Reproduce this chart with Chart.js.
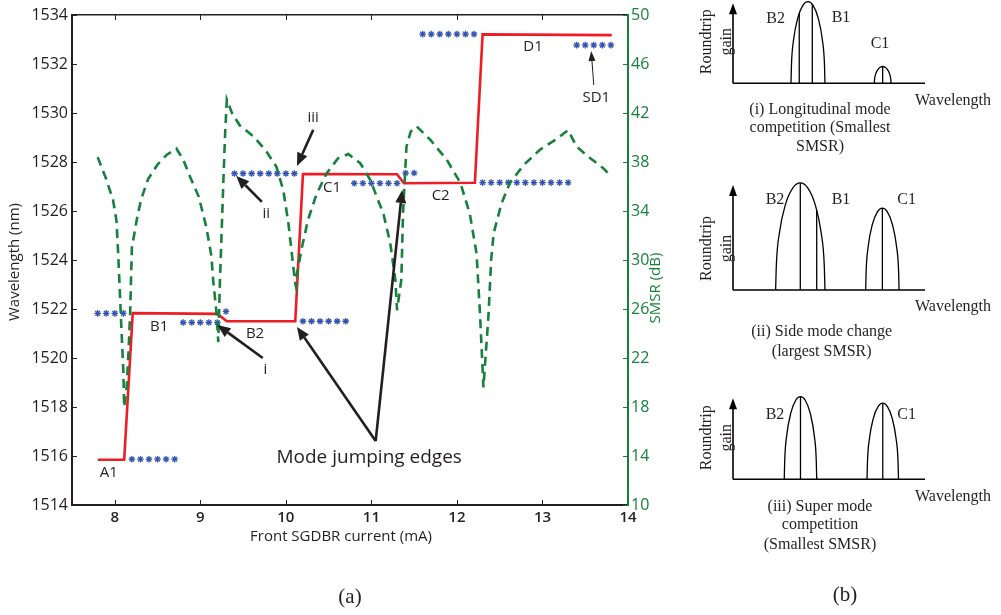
<!DOCTYPE html>
<html>
<head>
<meta charset="utf-8">
<script src="https://cdn.jsdelivr.net/npm/chart.js@4.4.1/dist/chart.umd.min.js"></script>
<style>
  html, body { margin: 0; padding: 0; background: #fff; }
  #wrap { position: relative; width: 1001px; height: 615px; overflow: hidden; background: #fff; }
  canvas { position: absolute; }
</style>
</head>
<body>
<div id="wrap">
  <canvas id="main" width="680" height="615" style="left:0;top:0;width:680px;height:615px"></canvas>
  <canvas id="gainI" width="321" height="165" style="left:680px;top:0;width:321px;height:165px"></canvas>
  <canvas id="gainII" width="321" height="205" style="left:680px;top:165px;width:321px;height:205px"></canvas>
  <canvas id="gainIII" width="321" height="245" style="left:680px;top:370px;width:321px;height:245px"></canvas>
</div>
<script>
// ---------- (a) wavelength and SMSR versus front SGDBR current ----------
const currentTicks = [8, 9, 10, 11, 12, 13, 14];
const wavelengthTicks = [1514, 1516, 1518, 1520, 1522, 1524, 1526, 1528, 1530, 1532, 1534];
const smsrTicks = [10, 14, 18, 22, 26, 30, 34, 38, 42, 46, 50];

// lasing wavelength (nm)
const lasingCurrent = [7.80, 8.11, 8.21, 9.20, 9.31, 10.11, 10.20, 11.30, 11.38, 12.21, 12.30, 13.81];
const lasingWl = [1515.85, 1515.85, 1521.83, 1521.80, 1521.50, 1521.50, 1527.51, 1527.50, 1527.13, 1527.15, 1533.21, 1533.18];

// strongest side mode wavelength (nm)
const sideCurrent = [
  7.8, 7.9, 8.0, 8.1,
  8.2, 8.3, 8.4, 8.5, 8.6, 8.7,
  8.8, 8.9, 9.0, 9.1, 9.2,
  9.3,
  9.4, 9.5, 9.6, 9.7, 9.8, 9.9, 10.0, 10.1,
  10.2, 10.3, 10.4, 10.5, 10.6, 10.7,
  10.8, 10.9, 11.0, 11.1, 11.2, 11.3,
  11.4, 11.5,
  11.6, 11.7, 11.8, 11.9, 12.0, 12.1, 12.2,
  12.3, 12.4, 12.5, 12.6, 12.7, 12.8, 12.9, 13.0, 13.1, 13.2, 13.3,
  13.4, 13.5, 13.6, 13.7, 13.8
];
const sideWl = [
  1521.82, 1521.82, 1521.82, 1521.82,
  1515.87, 1515.87, 1515.87, 1515.87, 1515.87, 1515.87,
  1521.45, 1521.45, 1521.45, 1521.45, 1521.45,
  1521.90,
  1527.53, 1527.53, 1527.53, 1527.53, 1527.53, 1527.53, 1527.53, 1527.53,
  1521.50, 1521.50, 1521.50, 1521.50, 1521.50, 1521.50,
  1527.13, 1527.13, 1527.13, 1527.13, 1527.13, 1527.13,
  1527.55, 1527.55,
  1533.22, 1533.22, 1533.22, 1533.22, 1533.22, 1533.22, 1533.22,
  1527.16, 1527.16, 1527.16, 1527.16, 1527.16, 1527.16, 1527.16, 1527.16, 1527.16, 1527.16, 1527.16,
  1532.77, 1532.77, 1532.77, 1532.77, 1532.77
];

// side mode suppression ratio (dB)
const smsrCurrent = [
  7.80, 7.90, 7.98, 8.02, 8.04, 8.06, 8.08, 8.10, 8.11, 8.14, 8.16, 8.18, 8.19, 8.20,
  8.26, 8.31, 8.39, 8.50, 8.61, 8.72, 8.80, 8.88, 8.98, 9.07, 9.13, 9.15, 9.19, 9.21,
  9.23, 9.25, 9.27, 9.29, 9.31, 9.37, 9.46, 9.62, 9.76, 9.89, 9.97, 10.03, 10.07, 10.11, 10.12,
  10.13, 10.19, 10.26, 10.36, 10.48, 10.61, 10.73, 10.87, 10.99, 11.06, 11.14, 11.22, 11.28, 11.30,
  11.35, 11.37, 11.41, 11.46, 11.53, 11.69, 11.88, 12.04, 12.15, 12.23, 12.27, 12.31,
  12.37, 12.40, 12.43, 12.52, 12.62, 12.78, 12.97, 13.17, 13.30, 13.40, 13.56, 13.71, 13.81
];
const smsrDb = [
  38.4, 36.6, 34.9, 33.2, 30.5, 27.3, 24.0, 21.0, 18.0, 19.7, 22.4, 25.7, 28.4, 31.0,
  33.4, 35.0, 36.6, 37.8, 38.6, 39.1, 38.2, 36.8, 35.2, 32.7, 30.3, 28.4, 25.6, 23.3,
  28.4, 32.4, 36.5, 40.3, 43.1, 42.0, 41.0, 40.1, 39.0, 37.6, 35.7, 33.0, 30.5, 28.1, 27.8,
  28.9, 31.1, 33.3, 35.4, 37.1, 38.3, 38.65, 37.9, 36.5, 35.2, 33.8, 31.4, 28.4, 25.9,
  28.4, 33.8, 39.25, 40.5, 40.9, 39.8, 38.2, 36.3, 33.8, 30.5, 25.6, 19.6,
  25.6, 30.0, 32.2, 34.6, 36.3, 37.75, 39.0, 39.9, 40.6, 39.25, 38.3, 37.5, 36.8
];

// mode names and remarks, placed at (current, wavelength)
const noteText = ['A1', 'B1', 'B2', 'C1', 'C2', 'D1', 'SD1', 'iii', 'ii', 'i'];
const noteCurrent = [7.93, 8.52, 9.64, 10.54, 11.81, 12.89, 13.63, 10.32, 9.77, 9.76];
const noteWl = [1515.31, 1521.27, 1521.00, 1526.94, 1526.61, 1532.69, 1530.61, 1529.80, 1525.88, 1519.51];

// pointer arrows: tail -> head, in (current, wavelength)
const arrowFromCurrent = [10.32, 9.72, 9.73, 11.05, 11.05, 13.60];
const arrowFromWl = [1529.31, 1526.37, 1520.00, 1516.61, 1516.61, 1531.14];
const arrowToCurrent = [10.13, 9.42, 9.20, 10.13, 11.36, 13.57];
const arrowToWl = [1527.84, 1527.43, 1521.35, 1521.27, 1526.86, 1532.53];
const arrowThin = [false, false, false, false, false, true];

const ink = '#231f20';
const green = '#17803d';
const red = '#ee1c25';
const blue = '#3455b0';
const sans = "'Open Sans', 'Liberation Sans', sans-serif";
const serif = "'Liberation Serif', 'DejaVu Serif', serif";

const pairs = (xs, ys) => xs.map((x, i) => ({ x: x, y: ys[i] }));
const fixedTicks = list => scale => { scale.ticks = list.map(v => ({ value: v })); };
const plainLabel = v => String(v);

function drawArrow(ctx, x0, y0, x1, y1, width, headLen, headHalf) {
  const ang = Math.atan2(y1 - y0, x1 - x0);
  const bx = x1 - headLen * Math.cos(ang), by = y1 - headLen * Math.sin(ang);
  ctx.lineWidth = width;
  ctx.beginPath();
  ctx.moveTo(x0, y0);
  ctx.lineTo(bx, by);
  ctx.stroke();
  ctx.beginPath();
  ctx.moveTo(x1, y1);
  ctx.lineTo(bx + headHalf * Math.sin(ang), by - headHalf * Math.cos(ang));
  ctx.lineTo(bx - headHalf * Math.sin(ang), by + headHalf * Math.cos(ang));
  ctx.closePath();
  ctx.fill();
}

const mainDecor = {
  id: 'mainDecor',
  afterDraw(chart) {
    const { ctx, chartArea: a, scales } = chart;
    const sx = scales.x, sy = scales.y, s2 = scales.y2;
    ctx.save();
    // inward tick marks
    ctx.lineWidth = 1;
    ctx.strokeStyle = ink;
    ctx.beginPath();
    currentTicks.forEach(v => {
      const px = Math.round(sx.getPixelForValue(v)) + 0.5;
      if (px > a.right - 2) return;
      ctx.moveTo(px, a.bottom); ctx.lineTo(px, a.bottom - 5);
      ctx.moveTo(px, a.top); ctx.lineTo(px, a.top + 5);
    });
    wavelengthTicks.forEach(v => {
      const py = Math.round(sy.getPixelForValue(v)) + 0.5;
      ctx.moveTo(a.left, py); ctx.lineTo(a.left + 5, py);
    });
    ctx.stroke();
    ctx.strokeStyle = green;
    ctx.beginPath();
    smsrTicks.forEach(v => {
      const py = Math.round(s2.getPixelForValue(v)) + 0.5;
      ctx.moveTo(a.right, py); ctx.lineTo(a.right - 5, py);
    });
    ctx.stroke();

    // axis titles
    ctx.fillStyle = ink;
    ctx.font = '15px ' + sans;
    ctx.textAlign = 'center';
    ctx.textBaseline = 'middle';
    ctx.fillText('Front SGDBR current (mA)', 341, 537);
    ctx.save();
    ctx.translate(15, 262);
    ctx.rotate(-Math.PI / 2);
    ctx.fillText('Wavelength (nm)', 0, 0);
    ctx.restore();
    ctx.save();
    ctx.fillStyle = green;
    ctx.translate(656, 288);
    ctx.rotate(-Math.PI / 2);
    ctx.fillText('SMSR (dB)', 0, 0);
    ctx.restore();

    // mode labels
    ctx.font = '15px ' + sans;
    noteText.forEach((t, i) => {
      ctx.fillText(t, sx.getPixelForValue(noteCurrent[i]), sy.getPixelForValue(noteWl[i]));
    });
    ctx.font = '19px ' + sans;
    ctx.textAlign = 'left';
    ctx.fillText('Mode jumping edges', sx.getPixelForValue(9.89), sy.getPixelForValue(1515.92));

    // arrows
    ctx.strokeStyle = ink;
    ctx.fillStyle = ink;
    ctx.lineCap = 'butt';
    arrowFromCurrent.forEach((c, i) => {
      const x0 = sx.getPixelForValue(c), y0 = sy.getPixelForValue(arrowFromWl[i]);
      const x1 = sx.getPixelForValue(arrowToCurrent[i]), y1 = sy.getPixelForValue(arrowToWl[i]);
      if (arrowThin[i]) drawArrow(ctx, x0, y0, x1, y1, 1, 10, 3.5);
      else drawArrow(ctx, x0, y0, x1, y1, 2.6, 13, 5.5);
    });

    // panel tag
    ctx.font = '21px ' + serif;
    ctx.textAlign = 'center';
    ctx.fillText('(a)', 350, 597);
    ctx.restore();
  }
};

new Chart(document.getElementById('main'), {
  type: 'line',
  data: {
    datasets: [
      {
        label: 'SMSR',
        data: pairs(smsrCurrent, smsrDb),
        yAxisID: 'y2',
        borderColor: green,
        borderWidth: 2.6,
        borderDash: [9, 6],
        pointRadius: 0,
        tension: 0,
        fill: false
      },
      {
        label: 'Side mode',
        data: pairs(sideCurrent, sideWl),
        yAxisID: 'y',
        showLine: false,
        pointStyle: 'star',
        pointRadius: 3.3,
        pointBorderColor: blue,
        pointBackgroundColor: blue,
        pointBorderWidth: 1.3
      },
      {
        label: 'Lasing mode',
        data: pairs(lasingCurrent, lasingWl),
        yAxisID: 'y',
        borderColor: red,
        borderWidth: 2.6,
        pointRadius: 0,
        tension: 0,
        fill: false
      }
    ]
  },
  options: {
    responsive: false,
    animation: false,
    devicePixelRatio: 1,
    layout: { padding: 0 },
    plugins: { legend: { display: false }, tooltip: { enabled: false } },
    scales: {
      x: {
        type: 'linear', position: 'bottom', min: 7.5, max: 14,
        afterBuildTicks: fixedTicks(currentTicks),
        afterFit: s => { s.height = 110; },
        grid: { display: false, drawTicks: false },
        border: { display: true, color: ink, width: 2 },
        ticks: { color: ink, font: { family: sans, size: 15, weight: '600' }, padding: 4, maxRotation: 0, autoSkip: false, callback: plainLabel }
      },
      xTop: {
        type: 'linear', position: 'top', min: 7.5, max: 14,
        afterBuildTicks: fixedTicks(currentTicks),
        afterFit: s => { s.height = 15; },
        grid: { display: false, drawTicks: false },
        border: { display: true, color: ink, width: 1.5 },
        ticks: { display: false }
      },
      y: {
        type: 'linear', position: 'left', min: 1514, max: 1534,
        afterBuildTicks: fixedTicks(wavelengthTicks),
        afterFit: s => { s.width = 72; },
        grid: { display: false, drawTicks: false },
        border: { display: true, color: ink, width: 2 },
        ticks: { color: ink, font: { family: sans, size: 16 }, padding: 4, autoSkip: false, callback: plainLabel }
      },
      y2: {
        type: 'linear', position: 'right', min: 10, max: 50,
        afterBuildTicks: fixedTicks(smsrTicks),
        afterFit: s => { s.width = 52; },
        grid: { display: false, drawTicks: false },
        border: { display: true, color: green, width: 2 },
        ticks: { color: green, font: { family: sans, size: 16 }, padding: 3, autoSkip: false, callback: plainLabel }
      }
    }
  },
  plugins: [mainDecor]
});

// ---------- (b) roundtrip gain sketches ----------
// (i) longitudinal mode competition
const archI1X = [30.2, 30.47, 31.53, 33.74, 36.39, 39.05, 41.71, 44.36, 46.57, 47.63, 47.9];
const archI1Y = [0, 24.5, 54, 81.6, 97.3, 102, 97.3, 81.6, 54, 24.5, 0];
const archI2X = [73.6, 73.73, 74.25, 75.34, 76.64, 77.95, 79.26, 80.56, 81.65, 82.17, 82.3];
const archI2Y = [0, 5.0, 11.1, 16.8, 20.0, 21, 20.0, 16.8, 11.1, 5.0, 0];
const modeIX = [34.5, 41.3, 77.95];
const modeITop = [87.5, 98.6, 21];

// (ii) side mode change
const archII1X = [22.2, 22.59, 24.13, 27.34, 31.19, 35.05, 38.91, 42.76, 45.97, 47.51, 47.9];
const archII1Y = [0, 24.5, 54, 81.6, 97.3, 102, 97.3, 81.6, 54, 24.5, 0];
const archII2X = [69.1, 69.36, 70.4, 72.58, 75.19, 77.8, 80.41, 83.02, 85.2, 86.24, 86.5];
const archII2Y = [0, 18.7, 41.3, 62.4, 74.4, 78, 74.4, 62.4, 41.3, 18.7, 0];
const modeIIX = [35.05, 43.6, 77.8];
const modeIITop = [102, 76.2, 78];

// (iii) super mode competition
const archIII1X = [26.7, 26.95, 27.97, 30.08, 32.61, 35.15, 37.69, 40.22, 42.33, 43.35, 43.6];
const archIII1Y = [0, 24.5, 54, 81.6, 97.3, 102, 97.3, 81.6, 54, 24.5, 0];
const archIII2X = [69.8, 70.05, 71.03, 73.08, 75.54, 78, 80.46, 82.92, 84.97, 85.95, 86.2];
const archIII2Y = [0, 22.6, 49.8, 75.2, 89.7, 94, 89.7, 75.2, 49.8, 22.6, 0];
const modeIIIX = [35.15, 78];
const modeIIITop = [102, 94];

function gainPanel(id, pad, arches, modeX, modeTop, peakLabels, caption, captionX, extra) {
  const datasets = [];
  arches.forEach(([xs, ys]) => datasets.push({
    data: pairs(xs, ys), borderColor: '#000', borderWidth: 1.3, pointRadius: 0,
    cubicInterpolationMode: 'monotone', clip: false, fill: false
  }));
  modeX.forEach((x, i) => datasets.push({
    data: [{ x: x, y: 0 }, { x: x, y: modeTop[i] }], borderColor: '#000', borderWidth: 1.3,
    pointRadius: 0, clip: false, fill: false
  }));
  const decor = {
    id: 'gainDecor',
    afterDraw(chart) {
      const { ctx, chartArea: a } = chart;
      ctx.save();
      ctx.strokeStyle = '#000';
      ctx.fillStyle = '#000';
      ctx.lineWidth = 1.6;
      ctx.beginPath();
      ctx.moveTo(a.left, a.bottom); ctx.lineTo(a.right, a.bottom);
      ctx.moveTo(a.left, a.bottom); ctx.lineTo(a.left, a.top + 8);
      ctx.stroke();
      ctx.beginPath();
      ctx.moveTo(a.left, a.top);
      ctx.lineTo(a.left - 4, a.top + 11);
      ctx.lineTo(a.left + 4, a.top + 11);
      ctx.closePath();
      ctx.fill();

      ctx.fillStyle = ink;
      ctx.font = '16px ' + serif;
      ctx.textAlign = 'center';
      ctx.textBaseline = 'middle';
      peakLabels.forEach(([t, dx, dy]) => ctx.fillText(t, a.left + dx, a.bottom + dy));
      ctx.fillText('Wavelength', a.left + 220, a.bottom + 17);
      caption.forEach(([t, dy]) => ctx.fillText(t, a.left + captionX, a.bottom + dy));
      ctx.save();
      ctx.translate(a.left - 26, a.bottom - 41.5);
      ctx.rotate(-Math.PI / 2);
      ctx.fillText('Roundtrip', 0, 0);
      ctx.restore();
      ctx.save();
      ctx.translate(a.left - 6, a.bottom - 41.5);
      ctx.rotate(-Math.PI / 2);
      ctx.fillText('gain', 0, 0);
      ctx.restore();
      if (extra) extra(ctx, a);
      ctx.restore();
    }
  };
  new Chart(document.getElementById(id), {
    type: 'line',
    data: { datasets: datasets },
    options: {
      responsive: false,
      animation: false,
      devicePixelRatio: 1,
      layout: { padding: pad },
      plugins: { legend: { display: false }, tooltip: { enabled: false } },
      scales: {
        x: { type: 'linear', min: 0, max: 100, display: false },
        y: { type: 'linear', min: 0, max: 100, display: false }
      }
    },
    plugins: [decor]
  });
}

gainPanel('gainI', { left: 53, right: 76, top: 3.3, bottom: 81.7 },
  [[archI1X, archI1Y], [archI2X, archI2Y]], modeIX, modeITop,
  [['B2', 42.7, -65], ['B1', 108, -65.3], ['C1', 147, -40]],
  [['(i) Longitudinal mode', 26.7], ['competition (Smallest', 44.7], ['SMSR)', 63.7]], 87);

gainPanel('gainII', { left: 53, right: 76, top: 20, bottom: 80 },
  [[archII1X, archII1Y], [archII2X, archII2Y]], modeIIX, modeIITop,
  [['B2', 42, -90], ['B1', 108, -90], ['C1', 173.7, -90]],
  [['(ii) Side mode change', 41.7], ['(largest SMSR)', 61.7]], 88.7);

gainPanel('gainIII', { left: 53, right: 76, top: 28.3, bottom: 135.7 },
  [[archIII1X, archIII1Y], [archIII2X, archIII2Y]], modeIIIX, modeIIITop,
  [['B2', 42, -64.3], ['C1', 173.7, -64.3]],
  [['(iii) Super mode', 27.4], ['competition', 45.7], ['(Smallest SMSR)', 65.7]], 87,
  (ctx, a) => {
    ctx.font = '21px ' + serif;
    ctx.fillText('(b)', a.left + 112, a.bottom + 116);
  });
</script>
</body>
</html>
